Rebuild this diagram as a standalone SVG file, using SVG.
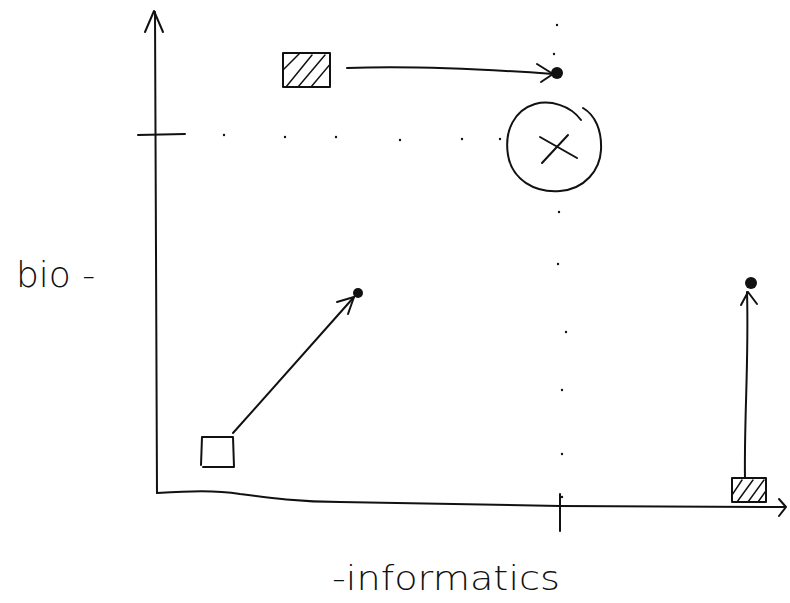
<svg xmlns="http://www.w3.org/2000/svg" width="790" height="603" viewBox="0 0 790 603">
<defs>
<style>
.ln{fill:none;stroke:#111;stroke-width:2;stroke-linecap:round;stroke-linejoin:round}
.th{fill:none;stroke:#111;stroke-width:1.5;stroke-linecap:round}
.dot{fill:#111}
.txt{font-family:"DejaVu Sans","Liberation Sans",sans-serif;font-weight:300;fill:#111}
</style>
<clipPath id="c1"><rect x="283" y="53" width="47" height="34"/></clipPath>
<clipPath id="c2"><rect x="732" y="478" width="34" height="24"/></clipPath>
</defs>
<rect width="790" height="603" fill="#fff"/>
<g id="axes">
<path class="ln" d="M157,493 L155,12"/>
<path class="ln" d="M145,32 L154,11 L163,32"/>
<path class="ln" d="M138,135 L185,134"/>
<path class="ln" d="M157,493 C190,491 215,490 240,494 C270,498 300,502 340,502 C420,504 500,505 560,506 L785,507"/>
<path class="ln" d="M779,499 L786,507 L779,516"/>
<path class="ln" d="M560,494 L560,531"/>
</g>
<g id="grid" class="dot">
<circle cx="224" cy="135" r="1.2"/><circle cx="285" cy="137" r="1.2"/><circle cx="336" cy="137" r="1.2"/>
<circle cx="400" cy="140" r="1.2"/><circle cx="462" cy="139" r="1.2"/><circle cx="500" cy="139" r="1.2"/>
<circle cx="557" cy="25" r="1.2"/><circle cx="554" cy="54" r="1.2"/><circle cx="559" cy="212" r="1.2"/>
<circle cx="558" cy="264" r="1.2"/><circle cx="566" cy="332" r="1.2"/><circle cx="562" cy="390" r="1.2"/>
<circle cx="562" cy="454" r="1.2"/><circle cx="562" cy="497" r="1.2"/>
</g>
<g id="node-hatched-top">
<rect class="ln" x="283" y="53" width="47" height="34"/>
<g clip-path="url(#c1)">
<path class="th" d="M283,70 L300,53 M286,87 L312,55 M298,87 L325,55 M311,87 L332,62"/>
</g>
</g>
<g id="node-target-top">
<circle class="dot" cx="557" cy="73" r="6"/>
</g>
<g id="node-circle-x">
<path class="ln" d="M581,120 C570,105 550,100 535,104 C515,110 504,130 508,155 C512,180 535,193 560,191 C585,189 600,170 601,150 C602,130 595,115 583,108"/>
<path class="ln" d="M540,137 L577,158 M542,163 L568,135"/>
</g>
<g id="node-square-low">
<path class="ln" d="M202,437 L201,465 M203,467 L234,467 L233,437 L202,437"/>
</g>
<g id="node-target-mid">
<circle class="dot" cx="358" cy="293" r="5"/>
</g>
<g id="node-hatched-right">
<rect class="ln" x="732" y="478" width="34" height="24"/>
<g clip-path="url(#c2)">
<path class="th" d="M732,495 L742,480 M737,502 L753,480 M748,502 L764,480 M758,502 L768,488"/>
</g>
</g>
<g id="node-target-right">
<circle class="dot" cx="751" cy="283" r="6"/>
</g>
<g id="connectors">
<path class="ln" d="M347,68 C400,66 470,68 553,74"/>
<path class="ln" d="M537,64 L553,74 L541,82"/>
<path class="ln" d="M233,433 L354,297"/>
<path class="ln" d="M337,302 L354,297 L348,314"/>
<path class="ln" d="M745,478 C744,420 749,360 747,292"/>
<path class="ln" d="M741,305 L748,292 L757,304"/>
</g>
<g id="labels">
<text class="txt" x="16" y="287" font-size="36">bio -</text>
<text class="txt" x="332" y="590" font-size="33" textLength="228" lengthAdjust="spacingAndGlyphs">-informatics</text>
</g>
</svg>
